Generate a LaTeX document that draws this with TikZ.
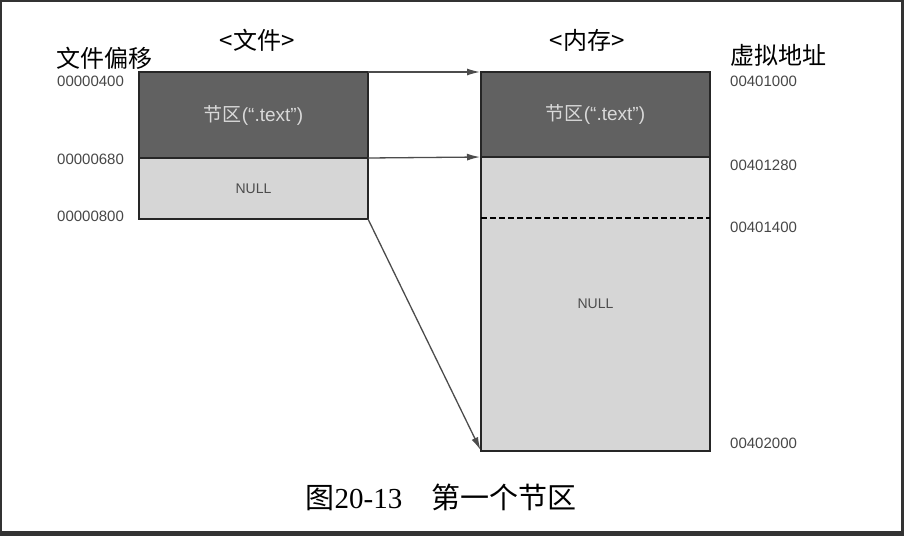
\documentclass[tikz,border=0pt]{standalone}
\usepackage{fontspec}
\setmainfont{Liberation Sans}
\newfontfamily\cjk{Noto Sans CJK SC}
\newfontfamily\capfont{Liberation Serif}
\usepackage{tikz}
\usetikzlibrary{positioning}
\usetikzlibrary{arrows.meta}
\colorlet{darkfill}{black!62}
\colorlet{lightfill}{black!16}
\colorlet{addrcol}{black!72}
\colorlet{arrcol}{black!70}
\tikzset{>=latex}

\begin{document}
\begin{tikzpicture}[x=1pt, y=-1pt,
    box/.style={draw=black!85, line width=1.4pt, inner sep=0pt, outer sep=0pt,
                minimum width=229pt},
    sect/.style={text=white!85!black, font=\fontsize{19}{19}\selectfont},
    nulltext/.style={text=black!70, font=\fontsize{14}{14}\selectfont},
    addr/.style={text=addrcol, anchor=west, inner sep=0pt,
                 font=\fontsize{15}{15}\selectfont},
    head/.style={inner sep=0pt, font=\cjk\fontsize{24}{24}\selectfont},
    arr/.style={->, >={Latex[length=13pt, width=7pt]}, draw=arrcol,
                line width=1.3pt, shorten >=1pt}]

% Frame
\fill[black!80] (0,0) rectangle (904,536);
\fill[white] (2,2) rectangle (901,531);
\useasboundingbox (0,0) rectangle (904,536);

% File side
\node[box, fill=darkfill, minimum height=86pt] (ftext) at (253.5,115)
    {};
\node[sect] at (ftext.center) {{\cjk 节区}(“.text”)};
\node[box, fill=lightfill, minimum height=61pt, below=0pt of ftext] (fnull) {};
\node[nulltext] at (fnull.center) {NULL};

% Memory side
\node[box, fill=darkfill, minimum height=85pt] (mtext) at (595.5,114.5)
    {};
\node[sect] at (mtext.center) {{\cjk 节区}(“.text”)};
\node[box, fill=lightfill, minimum height=294pt, below=0pt of mtext] (mnull) {};
\node[nulltext] at (mnull.center) {NULL};

% Dashed boundary
\coordinate (dash) at (0,218);
\draw[dashed, line width=1.3pt, dash pattern=on 6pt off 3pt]
    (mnull.west |- dash) -- (mnull.east |- dash);

% Arrows
\draw[arr] (ftext.north east) -- (mtext.north west);
\draw[arr] (ftext.south east) -- (mtext.south west);
\draw[arr] (fnull.south east) -- (mnull.south west);

% Headings
\node[head] (fhead) at (257,40) {<文件>};
\node[head] (mhead) at (587,40) {<内存>};
\node[head] (foff) at (104,58) {文件偏移};
\node[head] (vaddr) at (778,55) {虚拟地址};

% Offsets
\node[addr] (o1) at (57,81) {00000400};
\node[addr] (o2) at (57,159) {00000680};
\node[addr] (o3) at (57,216) {00000800};

% Addresses
\node[addr] (a1) at (730,81) {00401000};
\node[addr] (a2) at (730,165) {00401280};
\node[addr] (a3) at (730,227) {00401400};
\node[addr] (a4) at (730,443) {00402000};

% Caption
\node[font=\capfont\fontsize{29}{29}\selectfont] (cap) at (441,497)
    {{\cjk 图}20-13\hspace{1em}{\cjk 第一个节区}};
\end{tikzpicture}
\end{document}
